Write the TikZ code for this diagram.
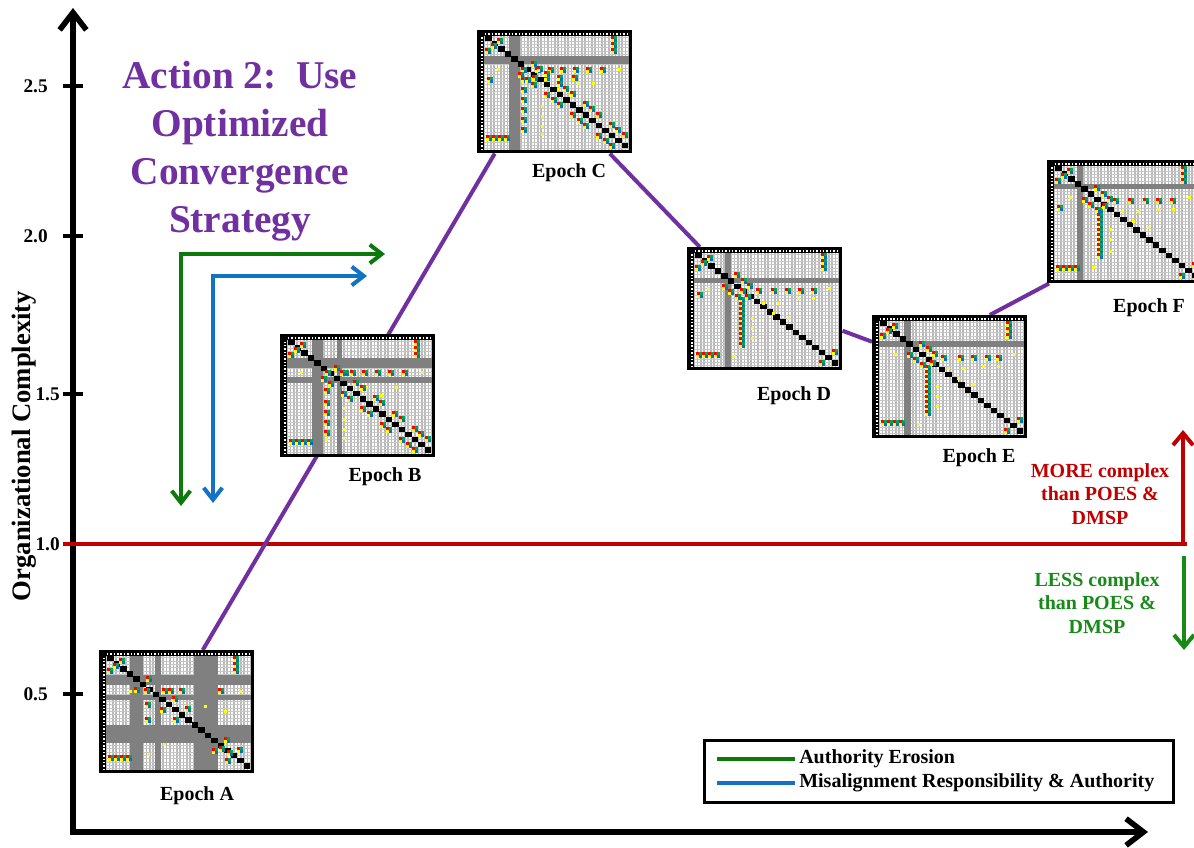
\documentclass[tikz,border=0pt]{standalone}
\usepackage{fontspec}
\setmainfont{Liberation Serif}
\usetikzlibrary{arrows.meta,calc}

\definecolor{trendpurple}{HTML}{7030A0}
\definecolor{erosiongreen}{HTML}{0B7A0B}
\definecolor{misblue}{HTML}{1273C4}
\definecolor{limitred}{HTML}{C00000}
\definecolor{lessgreen}{HTML}{178A17}
\definecolor{cellred}{HTML}{FF0000}
\definecolor{cellyellow}{HTML}{FFFF00}
\definecolor{cellgreen}{HTML}{00A650}
\definecolor{cellblue}{HTML}{0070C0}

\pgfdeclarelayer{bottom}
\pgfdeclarelayer{lines}
\pgfsetlayers{bottom,lines,main}

% a 2x2 block of coloured dependency marks
\newcommand{\cellquad}[2]{%
  \fill[cellred] ({#1},{#2}) rectangle ++(3,3);
  \fill[cellgreen] ({#1+3},{#2}) rectangle ++(3,3);
  \fill[cellyellow] ({#1},{#2+3}) rectangle ++(3,3);
  \fill[cellblue] ({#1+3},{#2+3}) rectangle ++(3,3);}

% contents of a DSM thumbnail: #1 node, #2 vertical bands, #3 horizontal bands,
% #4 mark blocks, #5 single marks, #6 diagonal positions with marks
\newcommand{\dsmfill}[6]{%
 \begin{scope}[shift={(#1.north west)}]
  \fill[gray!55] (7,6) rectangle (152,120);
  \foreach \k in {0,...,42} \fill[white] ({7.8+\k*3.37},6) rectangle ++(1.7,114);
  \foreach \k in {0,...,33} \draw[gray!45,line width=0.45pt] (7,{7.5+\k*3.37}) -- (152,{7.5+\k*3.37});
  \foreach \k in {0,...,33} \fill[white] (4,{7.5+\k*3.37}) rectangle ++(1.6,1.4);
  \foreach \k in {0,...,42} \fill[white] ({8+\k*3.37},3.4) rectangle ++(1.4,1.4);
  \foreach \a/\b in {#2} \fill[gray] (\a,6) rectangle (\b,120);
  \foreach \a/\b in {#3} \fill[gray] (7,\a) rectangle (152,\b);
  \foreach \i in {0,...,21} \fill[black] ({8+\i*6.5},{6+\i*5.1}) rectangle ++(6.8,5.4);
  \cellquad{14}{13}\cellquad{20}{8}\cellquad{8}{18}
  \cellquad{134}{6}\cellquad{134}{12}\cellquad{134}{18}
  \cellquad{9}{105}\cellquad{15}{105}\cellquad{21}{105}\cellquad{27}{105}
  \foreach \p/\q in {#4} {\cellquad{\p}{\q}}
  \foreach \p/\q in {#5} \fill[cellyellow] (\p,\q) rectangle ++(3,3);
  \foreach \i in {#6} {\cellquad{8+\i*6.5-6}{6+\i*5.1+5.1}\cellquad{8+\i*6.5+6.5}{6+\i*5.1-6}}
 \end{scope}}

\begin{document}
\begin{tikzpicture}[x=0.75pt,y=-0.75pt,
  lab/.style={font=\fontsize{15}{17.6}\selectfont\bfseries, inner sep=0pt},
  ticklab/.style={font=\fontsize{14.5}{17}\selectfont\bfseries, inner sep=0pt},
  dsm/.style={fill=black, draw=none, inner sep=0pt, minimum width=116.25pt,
    minimum height=92.25pt, anchor=north west},
  axisline/.style={line width=4.2pt, line join=miter},
  tickmark/.style={line width=3.2pt},
  trend/.style={draw=trendpurple, line width=3pt},
  limit/.style={draw=limitred, line width=3pt},
  erosion/.style={draw=erosiongreen, line width=3pt, line join=miter},
  misalign/.style={draw=misblue, line width=3pt, line join=miter},
  bigbarb/.style={{Straight Barb[length=13pt,width=20pt]}-{Straight Barb[length=13pt,width=20pt]}},
  smallbarb/.style={{Straight Barb[length=9pt,width=14pt]}-{Straight Barb[length=9pt,width=14pt]}},
  endbarb/.style={-{Straight Barb[length=9pt,width=15pt]}}]
\useasboundingbox (0,0) rectangle (1194,848);

% axes, ticks and the reference level
\coordinate (origin) at (73,832);
\coordinate (ytop) at (73,8);
\coordinate (xend) at (1148,832);
\begin{pgfonlayer}{bottom}
  \draw[axisline,bigbarb] (ytop) -- (origin) -- (xend);
  \foreach \lbl/\yy/\nm/\gap in {2.5/86/t25/25, 2.0/236/t20/25, 1.5/394/t15/13, 1.0/544/t10/13, 0.5/694/t05/25} {
    \coordinate (\nm) at (73,\yy);
    \draw[tickmark] ($(\nm)+(-10,0)$) -- ($(\nm)+(10,0)$);
    \node[ticklab, anchor=east] (\nm lab) at ($(\nm)+(-\gap,0)$) {\lbl};
  }
  \coordinate (redend) at (1187,544);
  \draw[limit] ($(t10)+(-10,0)$) -- (redend);
\end{pgfonlayer}

\node[rotate=90, font=\fontsize{20}{24}\selectfont\bfseries, inner sep=0pt] (ylab) at (24,446) {Organizational Complexity};

\node[font=\fontsize{29.5}{36}\selectfont\bfseries, text=trendpurple, align=center,
  anchor=north, inner sep=0pt] (title) at (240,61) {Action 2:\ \ Use\\Optimized\\Convergence\\Strategy};

% action arrows
\coordinate (gdown) at (181,506);
\coordinate (gright) at (385,254);
\draw[erosion,smallbarb] (gdown) |- (gright);
\coordinate (bdown) at (213,503);
\coordinate (bright) at (367,276);
\draw[misalign,smallbarb] (bdown) |- (bright);

% DSM thumbnails
\node[dsm] (epA) at (99,650) {};
\node[dsm] (epB) at (280,334) {};
\node[dsm] (epC) at (477,30) {};
\node[dsm] (epD) at (687,247) {};
\node[dsm] (epE) at (872,315) {};
\node[dsm] (epF) at (1047,160) {};

\dsmfill{epA}{31/44,56/62,95/119}{25/35,45/50,75/93}
  {45/38,63/38,69/38,80/38,119/38,46/52,46/67,120/96,128/100}
  {30/40,72/49,105/55,140/40,48/103,64/93,125/60}{5,9,11,17,19}
\dsmfill{epB}{32/43,57/62}{24/34,43/49}
  {45/36,63/36,70/36,82/36,95/36,108/36,122/36,44/54,44/66,44/76,44/86,44/96}
  {20/37,141/37,63/73,63/84,63/94,63/103,45/104,85/52,100/60,115/52}
  {6,7,9,10,12,13,15,16,18,19,20}
\dsmfill{epC}{32/43}{26/34}
  {44/37,58/37,71/37,83/37,96/37,109/37,123/37,44/47,44/57,44/67,44/77,44/87,44/97,55/45,67/45,80/45,95/45,10/47}
  {64/75,64/85,64/95,64/103,100/52,115/52,80/58,20/38,141/38,75/68,90/60}
  {6,7,8,10,11,12,14,15,16,18,19,20}
\dsmfill{epD}{38/44}{31/36}
  {53/41,69/41,84/41,98/41,111/41,124/41,52/50,52/55,52/60,52/65,52/70,52/75,52/80,52/85,52/90,52/95,10/45,58/47}
  {64/70,64/80,64/90,75/55,90/55,110/50,125/50,100/70,45/108,20/40,141/40,85/65}
  {5,6,7,20}
\dsmfill{epE}{32/39}{26/32}
  {69/40,86/40,99/40,113/40,124/40,53/50,53/55,53/60,53/65,53/70,53/75,53/80,53/85,53/90,53/95,58/45}
  {64/70,64/80,64/90,75/52,90/52,110/50,125/50,100/68,45/108,22/38,141/38,85/62}
  {5,6,7,20}
\dsmfill{epF}{30/36}{24/29}
  {66/38,81/38,96/38,109/38,123/38,50/48,50/53,50/58,50/63,50/68,50/73,50/78,50/83,50/88,50/93,10/45,55/43}
  {62/68,62/78,62/90,74/50,90/50,110/48,125/48,100/66,45/106,22/36,141/36,85/60}
  {5,6,7,20}

% trend through the epochs
\begin{pgfonlayer}{lines}
  \draw[trend] ($(epA.north)+(26,0)$) -- ($(epC.south)+(-60,0)$);
  \draw[trend] ($(epC.south)+(55,0)$) -- ($(epD.north)+(-65,0)$);
  \draw[trend] ($(epD.east)+(0,22)$) -- ($(epE.west)+(0,-35)$);
  \draw[trend] ($(epE.north)+(40,0)$) -- ($(epF.south west)+(2,0)$);
\end{pgfonlayer}

% epoch captions
\node[lab] (labA) at (197,796) {Epoch A};
\node[lab] (labB) at (385,477) {Epoch B};
\node[lab] (labC) at (569,173) {Epoch C};
\node[lab] (labD) at (794,396) {Epoch D};
\node[lab] (labE) at (979,458) {Epoch E};
\node[lab] (labF) at (1149,308) {Epoch F};

% more / less complex indicators
\coordinate (redcorner) at (1183,546);
\coordinate (moreup) at (1183,430);
\draw[limit,endbarb] (redcorner) -- (moreup);
\coordinate (lesstop) at (1184,556);
\coordinate (lessdown) at (1184,650);
\draw[draw=lessgreen,line width=3pt,endbarb] (lesstop) -- (lessdown);
\node[lab, text=limitred, align=center] (moretxt) at (1100,494) {MORE complex\\than POES \&\\DMSP};
\node[lab, text=lessgreen, align=center] (lesstxt) at (1097,603) {LESS complex\\than POES \&\\DMSP};

% legend
\node[draw=black, line width=1.9pt, minimum width=351.75pt, minimum height=46.5pt,
  inner sep=0pt, anchor=north west] (legend) at (703,739) {};
\node[lab, anchor=west] (legA) at (799,759) {Authority Erosion};
\node[lab, anchor=west] (legB) at (799,783) {Misalignment Responsibility \& Authority};
\draw[erosion] ($(legA.west)+(-82,0)$) -- ($(legA.west)+(-4,0)$);
\draw[misalign] ($(legB.west)+(-82,0)$) -- ($(legB.west)+(-4,0)$);
\end{tikzpicture}
\end{document}
